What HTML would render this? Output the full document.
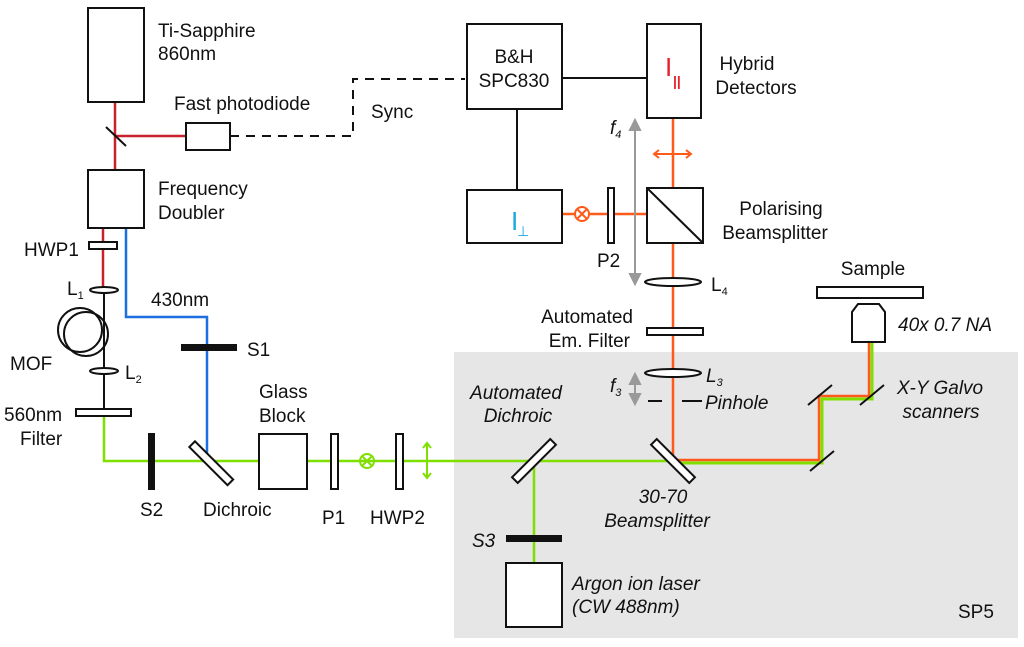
<!DOCTYPE html>
<html><head><meta charset="utf-8"><style>
html,body{margin:0;padding:0;background:#fff;}
svg{display:block;}
text{font-family:"Liberation Sans",Arial,sans-serif;font-size:19px;fill:#111;}
.i{font-style:italic;}
</style></head><body>
<svg width="1024" height="647" viewBox="0 0 1024 647" xmlns="http://www.w3.org/2000/svg">
<rect x="454" y="352" width="564" height="286" fill="#e6e6e6"/>

<g fill="none" stroke-width="2.5">
<path d="M115 102V170M115 136H186M103 228V290" stroke="#c8202c"/>
<path d="M126 228V317H207V455" stroke="#1c6fe0"/>
<path d="M104 290V409" stroke="#111" stroke-width="2"/>
<path d="M104 416V461H673M534 461V563" stroke="#7fe000"/>
<path d="M673 118V461" stroke="#ff5a1a"/>
<path d="M562 214H673" stroke="#ff5a1a"/>
<path d="M673 463H822V399H872V342" stroke="#7fe000" stroke-width="3"/>
<path d="M673 460H819V396H869V342" stroke="#ff5a1a" stroke-width="2.5"/>
</g>

<g fill="none" stroke="#111" stroke-width="2">
<path d="M562 78H647M517 109V190"/>
<path d="M230 136H353V79H465" stroke-dasharray="9,7"/>
<line x1="106" y1="127" x2="126" y2="146"/>
</g>

<g fill="#fff" stroke="#111" stroke-width="2">
<rect x="88" y="8" width="56" height="94"/>
<rect x="186" y="123" width="44" height="27"/>
<rect x="88" y="170" width="56" height="58"/>
<rect x="89" y="242" width="28" height="7"/>
<ellipse cx="104" cy="290" rx="14" ry="3"/>
<ellipse cx="104" cy="371" rx="14" ry="3"/>
<rect x="76" y="409" width="55" height="7"/>
<rect x="259" y="434" width="48" height="55"/>
<rect x="331" y="434" width="7" height="55"/>
<rect x="396" y="434" width="7" height="55"/>
<rect x="467" y="24" width="95" height="85"/>
<rect x="647" y="24" width="54" height="94"/>
<rect x="467" y="190" width="95" height="53"/>
<rect x="608" y="188" width="6" height="55"/>
<rect x="647" y="188" width="56" height="55"/>
<ellipse cx="673" cy="282" rx="28" ry="4"/>
<rect x="647" y="328" width="56" height="7"/>
<ellipse cx="673" cy="373" rx="28" ry="4"/>
<rect x="817" y="287" width="106" height="11"/>
<path d="M852 342V312L858 304H879L885 312V342Z"/>
<rect x="506" y="563" width="56" height="64"/>
<rect x="186" y="455" width="54" height="8" transform="rotate(45 207 459)"/>
<rect x="507" y="457" width="54" height="8" transform="rotate(-45 534 461)"/>
<rect x="646" y="457" width="54" height="8" transform="rotate(45 673 461)"/>
</g>
<g fill="none" stroke="#111" stroke-width="2">
<path d="M647 188L703 243"/>
<circle cx="80" cy="330" r="22"/><circle cx="86" cy="334" r="22"/>
<path d="M648 401H662M682 401H702"/>
<path d="M808 405L832 385M860 405L884 385M810 471L834 451"/>
</g>
<g fill="#111">
<rect x="181" y="344" width="56" height="7"/>
<rect x="148" y="433" width="7" height="57"/>
<rect x="506" y="535" width="56" height="7"/>
</g>

<g fill="none" stroke="#7fe000" stroke-width="2">
<circle cx="367" cy="461" r="7"/><path d="M362 456l10 10M372 456l-10 10"/>
<path d="M427 443V478M423 448l4-5 4 5M423 473l4 5 4-5"/>
</g>
<g fill="#fff" stroke="#ff5a1a" stroke-width="2">
<circle cx="582" cy="214" r="7"/><path d="M577 209l10 10M587 209l-10 10"/>
<path d="M654 154H691M659 150l-5 4 5 4M686 150l5 4-5 4" fill="none"/>
</g>
<g stroke="#999" stroke-width="2" fill="#999">
<path d="M635 126V278"/><path d="M630 130l5-10 5 10z M630 274l5 10 5-10z"/>
<path d="M635 380V398"/><path d="M630 384l5-10 5 10z M630 394l5 10 5-10z"/>
</g>

<text x="158" y="37">Ti-Sapphire</text>
<text x="158" y="60">860nm</text>
<text x="174" y="110">Fast photodiode</text>
<text x="371" y="118">Sync</text>
<text x="158" y="195">Frequency</text>
<text x="158" y="219">Doubler</text>
<text x="24" y="256">HWP1</text>
<text x="67" y="295">L<tspan font-size="11" dy="4">1</tspan></text>
<text x="151" y="306">430nm</text>
<text x="10" y="370">MOF</text>
<text x="125" y="379">L<tspan font-size="11" dy="4">2</tspan></text>
<text x="247" y="356">S1</text>
<text x="4" y="421">560nm</text>
<text x="20" y="445">Filter</text>
<text x="259" y="398">Glass</text>
<text x="259" y="422">Block</text>
<text x="140" y="516">S2</text>
<text x="203" y="516">Dichroic</text>
<text x="322" y="524">P1</text>
<text x="370" y="524">HWP2</text>
<text x="514" y="63" text-anchor="middle">B&amp;H</text>
<text x="514" y="87" text-anchor="middle">SPC830</text>
<text x="665" y="76" style="fill:#e8202a;font-size:26px">I</text>
<text x="673" y="86" style="fill:#e8202a;font-size:14px;font-weight:bold">||</text>
<text x="747" y="70" text-anchor="middle">Hybrid</text>
<text x="756" y="94" text-anchor="middle">Detectors</text>
<text x="511" y="230" style="fill:#19a8e0;font-size:26px">I</text>
<text x="517" y="236" style="fill:#19a8e0;font-size:14px">⊥</text>
<text x="610" y="134" class="i">f<tspan font-size="11" dy="4">4</tspan></text>
<text x="781" y="215" text-anchor="middle">Polarising</text>
<text x="775" y="239" text-anchor="middle">Beamsplitter</text>
<text x="597" y="267">P2</text>
<text x="711" y="291">L<tspan font-size="11" dy="4">4</tspan></text>
<text x="873" y="275" text-anchor="middle">Sample</text>
<text x="633" y="323" text-anchor="end">Automated</text>
<text x="630" y="347" text-anchor="end">Em. Filter</text>
<text x="898" y="331" class="i">40x 0.7 NA</text>
<text x="706" y="382" class="i">L<tspan font-size="11" dy="4">3</tspan></text>
<text x="610" y="392" class="i">f<tspan font-size="11" dy="4">3</tspan></text>
<text x="705" y="409" class="i">Pinhole</text>
<text x="516" y="399" class="i" text-anchor="middle">Automated</text>
<text x="518" y="422" class="i" text-anchor="middle">Dichroic</text>
<text x="940" y="394" class="i" text-anchor="middle">X-Y Galvo</text>
<text x="941" y="418" class="i" text-anchor="middle">scanners</text>
<text x="663" y="503" class="i" text-anchor="middle">30-70</text>
<text x="657" y="527" class="i" text-anchor="middle">Beamsplitter</text>
<text x="472" y="547" class="i">S3</text>
<text x="572" y="590" class="i">Argon ion laser</text>
<text x="572" y="613" class="i">(CW 488nm)</text>
<text x="958" y="618">SP5</text>
</svg>
</body></html>
